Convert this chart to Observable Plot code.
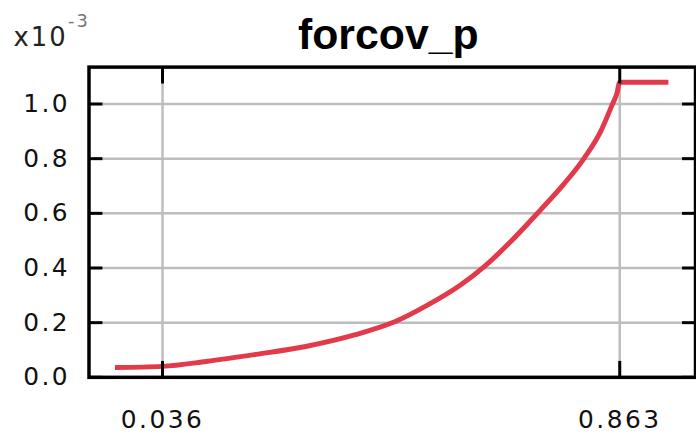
<!DOCTYPE html>
<html>
<head>
<meta charset="utf-8">
<script src="https://cdn.jsdelivr.net/npm/d3@7"></script>
<script src="https://cdn.jsdelivr.net/npm/@observablehq/plot@0.6"></script>
<style>
  html, body { margin: 0; padding: 0; background: #fff; }
  #wrap { width: 696px; height: 436px; overflow: hidden; position: relative; }
  #wrap .tick text { letter-spacing: 2.5px; }
  #wrap .expo text { letter-spacing: 2px; }
</style>
</head>
<body>
<div id="wrap"></div>
<script>
const title = "forcov_p";
const exponentBase = "x10";
const exponentPower = "-3";
const xTicks = [0.036, 0.863];
const yTicks = [0, 0.2, 0.4, 0.6, 0.8, 1.0];
// curve values (y in units of 1e-3)
const xs = [-0.050, 0.036, 0.115, 0.205, 0.295, 0.385, 0.457, 0.516, 0.575, 0.619, 0.665, 0.719, 0.761, 0.800, 0.829, 0.849, 0.858, 0.863, 0.951];
const ys = [0.036, 0.040, 0.058, 0.084, 0.113, 0.156, 0.204, 0.265, 0.338, 0.407, 0.495, 0.611, 0.705, 0.806, 0.902, 0.996, 1.040, 1.080, 1.080];

const data = xs.map((x, i) => ({x, y: ys[i]}));
const tickFont = {fontFamily: "DejaVu Sans", fontSize: 25};

const chart = Plot.plot({
  width: 700,
  height: 436,
  marginLeft: 89,
  marginRight: 1,
  marginTop: 67,
  marginBottom: 57,
  style: {fontFamily: "DejaVu Sans", background: "#fff", color: "#111", overflow: "visible"},
  x: {domain: [-0.097, 1.0]},
  y: {domain: [0, 1.135]},
  marks: [
    Plot.gridY(yTicks, {stroke: "#bdbdbd", strokeOpacity: 1, strokeWidth: 2.5}),
    Plot.gridX(xTicks, {stroke: "#bdbdbd", strokeOpacity: 1, strokeWidth: 2.5}),
    Plot.line(data, {x: "x", y: "y", stroke: "#e23a4b", strokeWidth: 5, curve: "monotone-x", strokeLinecap: "butt"}),
    Plot.frame({stroke: "#000", strokeWidth: 3.5}),
    // inward ticks
    Plot.axisY(yTicks, {anchor: "left", tickSize: 14, dx: 14, text: null, label: null, stroke: "#000", strokeWidth: 3}),
    Plot.axisY(yTicks, {anchor: "right", tickSize: 14, dx: -14, text: null, label: null, stroke: "#000", strokeWidth: 3}),
    Plot.axisX(xTicks, {anchor: "bottom", tickSize: 16, dy: -16, text: null, label: null, stroke: "#000", strokeWidth: 3}),
    Plot.axisX(xTicks, {anchor: "top", tickSize: 16, dy: 16, text: null, label: null, stroke: "#000", strokeWidth: 3}),
    // tick labels
    Plot.axisY(yTicks, {anchor: "left", tickSize: 0, tickPadding: 19, label: null, tickFormat: d3.format(".1f"), className: "tick", fill: "#111", ...tickFont}),
    Plot.axisX(xTicks, {anchor: "bottom", tickSize: 0, tickPadding: 33, label: null, tickFormat: d3.format(".3f"), className: "tick", fill: "#111", ...tickFont}),
    // title and exponent
    Plot.text([title], {frameAnchor: "top", dx: -4, dy: -18, lineAnchor: "bottom", fontFamily: "Liberation Sans", fontWeight: "bold", fontSize: 43, fill: "#000"}),
    Plot.text([exponentBase], {frameAnchor: "top-left", dx: -76, dy: -21, lineAnchor: "bottom", textAnchor: "start", fontFamily: "DejaVu Sans", fontSize: 26, fill: "#222", className: "expo"}),
    Plot.text([exponentPower], {frameAnchor: "top-left", dx: -21, dy: -40, lineAnchor: "bottom", textAnchor: "start", fontFamily: "DejaVu Sans", fontSize: 18, fill: "#777", className: "expo"})
  ]
});
document.getElementById("wrap").appendChild(chart);
</script>
</body>
</html>
